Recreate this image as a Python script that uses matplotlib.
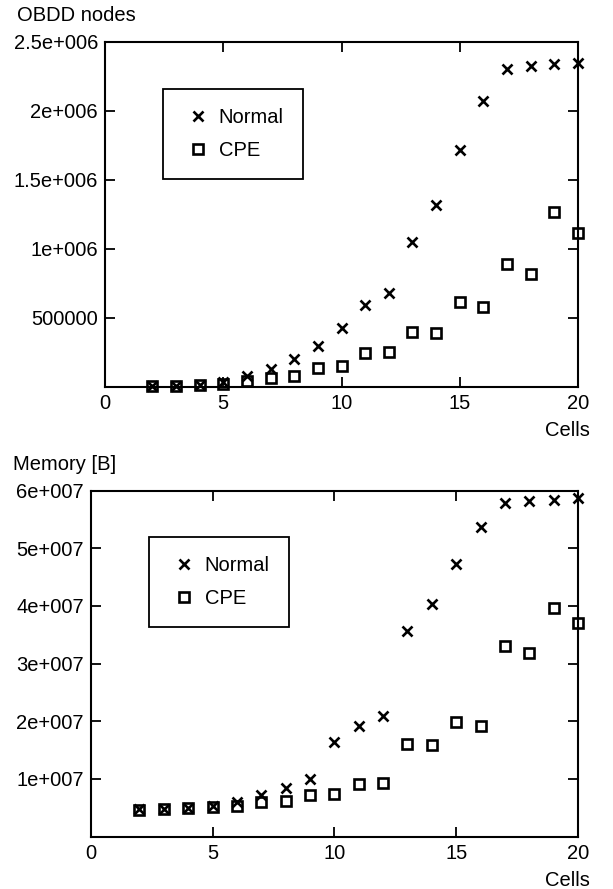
import matplotlib
matplotlib.use("Agg")
import matplotlib.pyplot as plt

plt.rcParams["font.family"] = ["Liberation Sans", "DejaVu Sans"]
plt.rcParams["font.size"] = 14.5

# values
CELLS = list(range(2, 21))
NODES_NORMAL = [3000, 6000, 12000, 36000, 80000, 128000, 201000, 295000, 423000, 589000,
                681000, 1046000, 1316000, 1715000, 2068000, 2302000, 2324000, 2338000, 2345000]
NODES_CPE = [2000, 4000, 9000, 22000, 41000, 65000, 80000, 133000, 150000, 242000,
             249000, 396000, 389000, 616000, 575000, 886000, 814000, 1268000, 1113000]
MEM_NORMAL = [4.8e6, 4.85e6, 5.0e6, 5.3e6, 6.07e6, 7.23e6, 8.39e6, 1.0e7, 1.636e7, 1.924e7,
              2.09e7, 3.57e7, 4.033e7, 4.726e7, 5.373e7, 5.778e7, 5.818e7, 5.83e7, 5.865e7]
MEM_CPE = [4.7e6, 4.8e6, 4.9e6, 5.1e6, 5.4e6, 5.96e6, 6.19e6, 7.17e6, 7.4e6, 9.13e6,
           9.25e6, 1.60e7, 1.589e7, 1.993e7, 1.918e7, 3.305e7, 3.178e7, 3.969e7, 3.698e7]

X_TICKS = [0, 5, 10, 15, 20]
NODES_TICKS = [5e5, 1e6, 1.5e6, 2e6, 2.5e6]
NODES_LABELS = ["500000", "1e+006", "1.5e+006", "2e+006", "2.5e+006"]
MEM_TICKS = [1e7, 2e7, 3e7, 4e7, 5e7, 6e7]
MEM_LABELS = ["1e+007", "2e+007", "3e+007", "4e+007", "5e+007", "6e+007"]

W, H = 613, 889


def panel(fig, rect, normal, cpe, yticks, ylabels, ytop, ylabel, ylab_xy, leg_xy):
    ax = fig.add_axes(rect)
    ax.plot(CELLS, normal, ls="none", marker="x", ms=7.5, mew=1.9, color="black",
            label="Normal", clip_on=False)
    ax.plot(CELLS, cpe, ls="none", marker="s", ms=6.5, mew=1.9, mfc="none", mec="black",
            color="black", label="CPE", clip_on=False)
    ax.set_xlim(0, 20); ax.set_ylim(0, ytop)
    ax.set_xticks(X_TICKS); ax.set_xticklabels([str(t) for t in X_TICKS])
    ax.set_yticks(yticks); ax.set_yticklabels(ylabels)
    ax.tick_params(direction="in", length=7, width=1.3, top=True, right=True, pad=5,
                   labelsize=14.5)
    for s in ax.spines.values():
        s.set_linewidth(1.5)
    ax.set_xlabel("Cells", loc="right")
    ax.xaxis.set_label_coords(1.025, -0.098)
    ax.set_ylabel(ylabel, rotation=0, ha="left", va="center")
    ax.yaxis.set_label_coords(*ylab_xy)
    leg = ax.legend(loc="upper left", bbox_to_anchor=leg_xy, fancybox=False, edgecolor="black",
                    framealpha=1, borderpad=0.95, handlelength=1.6, handletextpad=0.2,
                    labelspacing=0.7, borderaxespad=0, fontsize=14.5)
    leg.get_frame().set_linewidth(1.3)
    return ax


fig = plt.figure(figsize=(W / 100, H / 100), dpi=100)
panel(fig, [105 / W, 1 - 386.7 / H, 473 / W, 345 / H], NODES_NORMAL, NODES_CPE,
      NODES_TICKS, NODES_LABELS, 2.5e6, "OBDD nodes", (-0.186, 1.077), (0.123, 0.863))
panel(fig, [90.7 / W, 1 - 836.7 / H, 487.3 / W, 346.2 / H], MEM_NORMAL, MEM_CPE,
      MEM_TICKS, MEM_LABELS, 6e7, "Memory [B]", (-0.159, 1.074), (0.120, 0.867))
fig.savefig("out.png", dpi=100)
